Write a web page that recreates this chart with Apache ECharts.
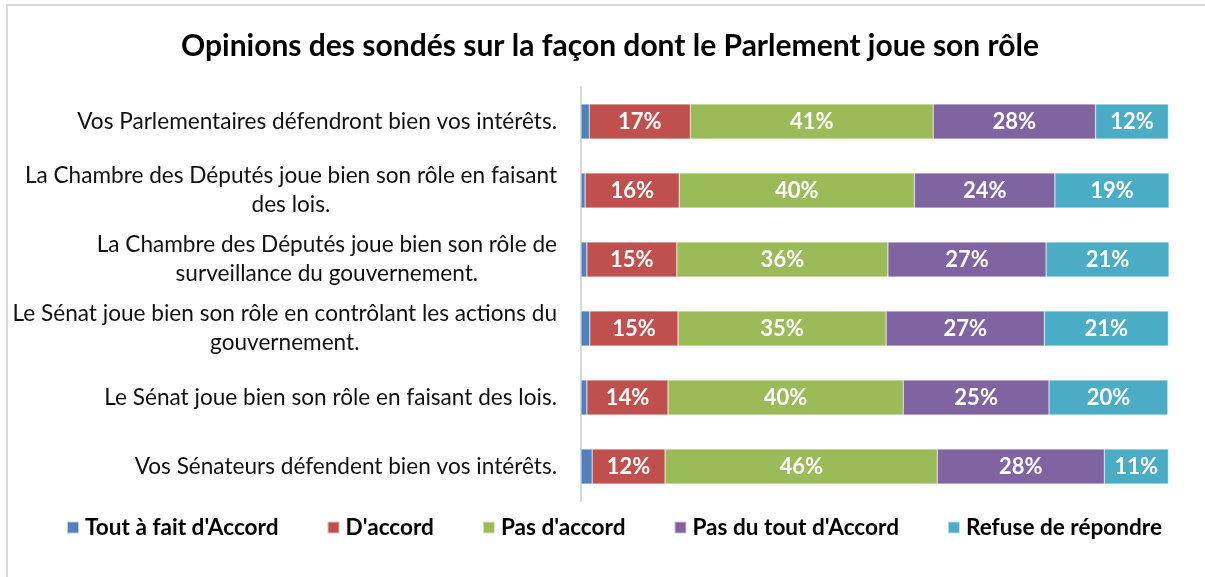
<!DOCTYPE html>
<html>
<head>
<meta charset="utf-8">
<script src="https://cdn.jsdelivr.net/npm/echarts@6/dist/echarts.min.js"></script>
<style>
html,body{margin:0;padding:0;background:#fff;}
#chart{width:1205px;height:577px;}
</style>
</head>
<body>
<div id="chart"></div>
<script>
const titleText = "Opinions des sondés sur la façon dont le Parlement joue son rôle";
const categories = [
  "Vos Parlementaires défendront bien vos intérêts.",
  "La Chambre des Députés joue bien son rôle en faisant\ndes lois.",
  "La Chambre des Députés joue bien son rôle de\nsurveillance du gouvernement.",
  "Le Sénat joue bien son rôle en contrôlant les actions du\ngouvernement.",
  "Le Sénat joue bien son rôle en faisant des lois.",
  "Vos Sénateurs défendent bien vos intérêts."
];
const seriesNames = ["Tout à fait d'Accord", "D'accord", "Pas d'accord", "Pas du tout d'Accord", "Refuse de répondre"];
const toutAFait = [1.4, 0.7, 1.0, 1.5, 1.0, 1.9];
const dAccord = [17.2, 16.0, 15.3, 15.0, 13.8, 12.4];
const pasDAccord = [41.3, 40.0, 35.9, 35.4, 40.0, 46.3];
const pasDuTout = [27.6, 23.9, 26.9, 26.9, 24.8, 28.4];
const refuse = [12.4, 19.4, 20.9, 21.1, 20.2, 10.9];
const colors = ["#4F81BD", "#C0504D", "#9BBB59", "#8064A2", "#4BACC6"];
const FONT = "Lato, 'Liberation Sans', sans-serif";

const valueSets = [toutAFait, dAccord, pasDAccord, pasDuTout, refuse];
const series = valueSets.map((vals, i) => ({
  name: seriesNames[i],
  type: 'bar',
  stack: 'total',
  barWidth: 35,
  data: vals,
  itemStyle: { color: colors[i], borderColor: 'rgba(255,255,255,0.6)', borderWidth: 0.5 },
  label: {
    show: i > 0,
    position: 'inside',
    color: '#fff',
    fontFamily: FONT,
    fontWeight: 'bold',
    fontSize: 22,
    formatter: p => Math.round(p.value) + '%'
  },
  emphasis: { disabled: true }
}));

const chart = echarts.init(document.getElementById('chart'), null, { renderer: 'canvas' });
chart.setOption({
  animation: false,
  backgroundColor: '#fff',
  title: {
    text: titleText,
    left: 176,
    top: 26,
    textStyle: { fontFamily: FONT, fontWeight: 'bold', fontSize: 30, color: '#000' }
  },
  legend: {
    data: seriesNames,
    left: 61,
    top: 511,
    itemWidth: 12,
    itemHeight: 12,
    itemGap: 48,
    icon: 'rect',
    textStyle: { fontFamily: FONT, fontWeight: 'bold', fontSize: 22.6, color: '#000', padding: [0, 0, 0, 1] }
  },
  grid: { left: 581, right: 36, top: 87, bottom: 76, containLabel: false },
  xAxis: {
    type: 'value',
    min: 0,
    max: 100,
    show: false
  },
  yAxis: {
    type: 'category',
    inverse: true,
    data: categories,
    axisLine: { show: true, lineStyle: { color: '#d9d9d9', width: 2 } },
    axisTick: { show: false },
    axisLabel: {
      margin: 24,
      align: 'right',
      fontFamily: FONT,
      fontSize: 22.6,
      color: '#111',
      lineHeight: 29,
      formatter: v => v.split('\n').map(s => '{c|' + s + '}').join('\n'),
      rich: { c: { align: 'center', fontFamily: FONT, fontSize: 22.6, color: '#111', lineHeight: 29 } }
    }
  },
  graphic: [{
    type: 'rect',
    shape: { x: 7, y: 5, width: 1400, height: 800 },
    style: { fill: 'none', stroke: '#d9d9d9', lineWidth: 2 },
    silent: true
  }],
  series: series
});
</script>
</body>
</html>
